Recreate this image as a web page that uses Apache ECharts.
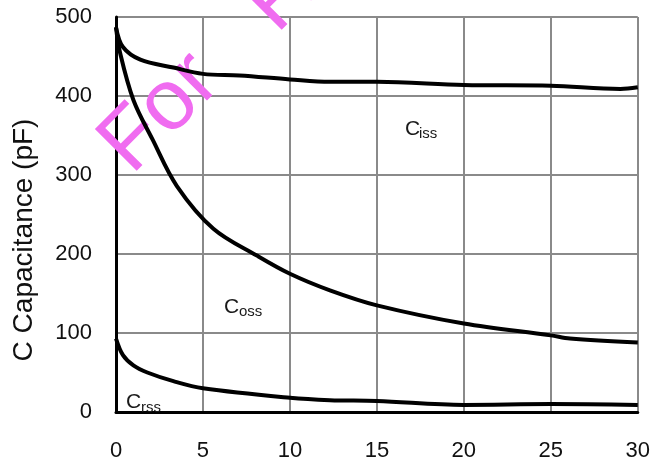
<!DOCTYPE html>
<html>
<head>
<meta charset="utf-8">
<script src="https://cdn.jsdelivr.net/npm/echarts@6/dist/echarts.min.js"></script>
<style>
html,body{margin:0;padding:0;background:#fff;}
#chart{width:653px;height:462px;}
</style>
</head>
<body>
<div id="chart"></div>
<script>
// Drain-source voltage (V) vs capacitance (pF)
const cissX = [0, 0.4, 1.4, 3.3, 5, 7.1, 10, 12.3, 15, 20, 25, 29, 30];
const cissY = [487, 462, 446, 436, 428, 426, 421, 418, 418, 414, 413, 409, 411];
const cossX = [0, 0.23, 1, 2.1, 3.5, 5.6, 8.1, 10, 12.3, 15, 20, 25, 26.1, 30];
const cossY = [487, 455, 395, 345, 286, 232, 198, 175, 154, 135, 112, 97, 93, 88];
const crssX = [0, 0.4, 1, 1.8, 3.3, 5, 10, 12.3, 15, 20, 25, 30];
const crssY = [93, 72, 59, 50, 39, 30, 18, 15, 14, 9, 10, 9];
const xTicks = [0, 5, 10, 15, 20, 25, 30];
const yTicks = [0, 100, 200, 300, 400, 500];
const yAxisTitle = 'C Capacitance (pF)';
const curveLabels = [
  {main: 'C', sub: 'iss'},
  {main: 'C', sub: 'oss'},
  {main: 'C', sub: 'rss'}
];

function pairs(xs, ys) { return xs.map((x, i) => [x, ys[i]]); }

const chart = echarts.init(document.getElementById('chart'), null, {renderer: 'canvas'});
const FONT = 'Liberation Sans, Arial, sans-serif';
const gridColor = '#8a8a8a';

const lineSeries = (name, data) => ({
  name: name,
  type: 'line',
  data: data,
  smooth: 0.35,
  showSymbol: false,
  symbol: 'none',
  lineStyle: {color: '#000', width: 4},
  z: 5
});

const labelPos = [
  {cx: 405, cy: 129.3, sx: 419, sy: 134.2},
  {cx: 224, cy: 307.3, sx: 239, sy: 312.2},
  {cx: 126, cy: 402.3, sx: 141, sy: 408.2}
];
const labelGraphics = [];
curveLabels.forEach((l, i) => {
  const p = labelPos[i];
  labelGraphics.push({
    type: 'text', x: p.cx, y: p.cy, z: 10,
    style: {text: l.main, fontSize: 21, fontFamily: FONT, fill: '#1a1a1a', align: 'left', verticalAlign: 'middle'}
  });
  labelGraphics.push({
    type: 'text', x: p.sx, y: p.sy, z: 10,
    style: {text: l.sub, fontSize: 15, fontFamily: FONT, fill: '#1a1a1a', align: 'left', verticalAlign: 'middle'}
  });
});

chart.setOption({
  animation: false,
  backgroundColor: '#fff',
  grid: {left: 116, right: 15, top: 17, bottom: 48, containLabel: false},
  xAxis: {
    type: 'value', min: xTicks[0], max: xTicks[xTicks.length - 1], interval: 5,
    axisLine: {show: true, onZero: false, lineStyle: {color: '#000', width: 3}},
    axisTick: {show: false},
    axisLabel: {fontSize: 22, fontFamily: FONT, color: '#111', margin: 28,
      formatter: v => xTicks.includes(v) ? String(v) : ''},
    splitLine: {show: true, showMinLine: true, showMaxLine: true, lineStyle: {color: gridColor, width: 2}}
  },
  yAxis: {
    type: 'value', min: yTicks[0], max: yTicks[yTicks.length - 1], interval: 100,
    axisLine: {show: true, onZero: false, lineStyle: {color: '#000', width: 3}},
    axisTick: {show: false},
    axisLabel: {fontSize: 22, fontFamily: FONT, color: '#111', margin: 24,
      formatter: v => yTicks.includes(v) ? String(v) : ''},
    splitLine: {show: true, showMinLine: true, showMaxLine: true, lineStyle: {color: gridColor, width: 2}}
  },
  graphic: [
    {
      type: 'text', x: 115, y: 159, rotation: Math.PI / 4, z: 1, silent: true,
      style: {text: 'For', fontSize: 86, fontFamily: FONT, fill: '#f06cf0', align: 'left', verticalAlign: 'middle'}
    },
    {
      type: 'text', x: 260, y: 18, rotation: Math.PI / 4, z: 1, silent: true,
      style: {text: 'Reference Only', fontSize: 86, fontFamily: FONT, fill: '#f06cf0', align: 'left', verticalAlign: 'middle'}
    },
    {
      type: 'text', x: 24, y: 240, rotation: Math.PI / 2, z: 10,
      style: {text: yAxisTitle, fontSize: 28, fontFamily: FONT, fill: '#111', align: 'center', verticalAlign: 'middle'}
    }
  ].concat(labelGraphics),
  series: [
    lineSeries('Ciss', pairs(cissX, cissY)),
    lineSeries('Coss', pairs(cossX, cossY)),
    lineSeries('Crss', pairs(crssX, crssY))
  ]
});
</script>
</body>
</html>
